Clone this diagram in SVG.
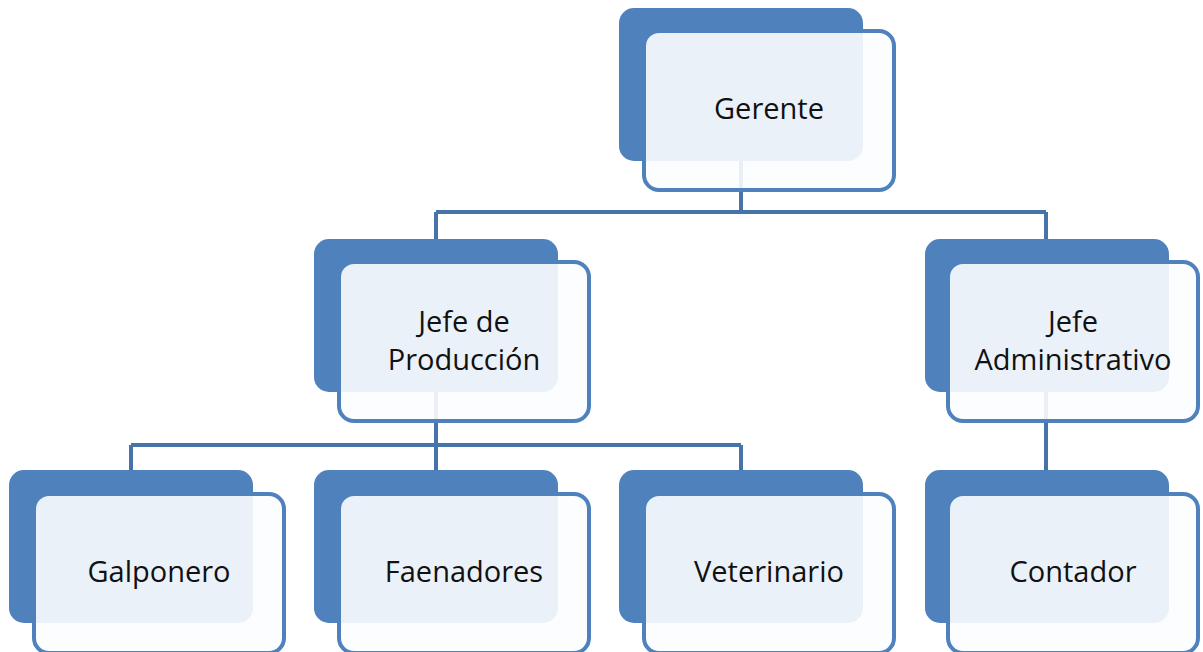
<svg xmlns="http://www.w3.org/2000/svg" width="1203" height="652" viewBox="0 0 1203 652">
<style>
.back{fill:#4f81bd}
.front{fill:#fcfdfe;fill-opacity:0.9;stroke:#4f81bd;stroke-width:4}
.lbl{font-family:"Open Sans","Noto Sans",sans-serif;font-size:29px;fill:#111;text-anchor:middle}
.conn{fill:none;stroke:#4674aa;stroke-width:4}
</style>
<rect width="1203" height="652" fill="#ffffff"/>
<g id="connectors">
<path class="conn" d="M741 160 V212 M436 212 H1046 M436 212 V239 M1046 212 V239"/>
<path class="conn" d="M436 392 V445 M131 445 H741 M131 445 V470 M436 445 V470 M741 445 V470"/>
<path class="conn" d="M1046 392 V470"/>
</g>
<g id="gerente">
<rect class="back" x="619" y="8" width="244" height="153" rx="15"/>
<rect class="front" x="644" y="31" width="250" height="159" rx="15"/>
<text class="lbl" x="769" y="119">Gerente</text>
</g>
<g id="jefe-produccion">
<rect class="back" x="314" y="239" width="244" height="153" rx="15"/>
<rect class="front" x="339" y="262" width="250" height="159" rx="15"/>
<text class="lbl" x="464" y="332">Jefe de</text>
<text class="lbl" x="464" y="370">Producción</text>
</g>
<g id="jefe-administrativo">
<rect class="back" x="925" y="239" width="244" height="153" rx="15"/>
<rect class="front" x="948" y="262" width="250" height="159" rx="15"/>
<text class="lbl" x="1073" y="332">Jefe</text>
<text class="lbl" x="1073" y="370">Administrativo</text>
</g>
<g id="galponero">
<rect class="back" x="9" y="470" width="244" height="153" rx="15"/>
<rect class="front" x="34" y="494" width="250" height="159" rx="15"/>
<text class="lbl" x="159" y="582">Galponero</text>
</g>
<g id="faenadores">
<rect class="back" x="314" y="470" width="244" height="153" rx="15"/>
<rect class="front" x="339" y="494" width="250" height="159" rx="15"/>
<text class="lbl" x="464" y="582">Faenadores</text>
</g>
<g id="veterinario">
<rect class="back" x="619" y="470" width="244" height="153" rx="15"/>
<rect class="front" x="644" y="494" width="250" height="159" rx="15"/>
<text class="lbl" x="769" y="582">Veterinario</text>
</g>
<g id="contador">
<rect class="back" x="925" y="470" width="244" height="153" rx="15"/>
<rect class="front" x="948" y="494" width="250" height="159" rx="15"/>
<text class="lbl" x="1073" y="582">Contador</text>
</g>
</svg>
